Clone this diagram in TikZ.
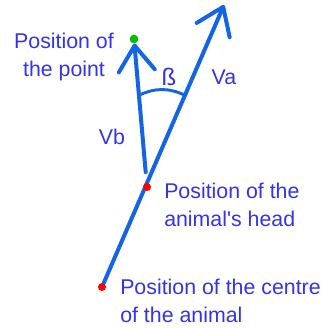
\documentclass[tikz,border=0pt]{standalone}
\usepackage{fontspec}
\setmainfont{Liberation Sans}
\usepackage{xcolor}
\usepackage{tikz}
\usetikzlibrary{arrows.meta, calc, backgrounds}

\definecolor{vecblue}{RGB}{20,100,230}
\definecolor{txtblue}{RGB}{50,50,240}

\begin{document}
\begin{tikzpicture}[
            x=0.75pt, y=-0.75pt,
            vec/.style={draw=vecblue, line width=3pt, line cap=round, -{Straight Barb[round, length=19pt, width=27pt]}},
            anglearc/.style={draw=vecblue, line width=2.2pt, line cap=round},
            dot/.style={circle, fill=#1, inner sep=0pt, minimum size=6pt},
            lbl/.style={text=txtblue, font=\fontsize{16}{21}\selectfont, inner sep=0pt}
        ]
            \useasboundingbox (0,0) rectangle (326,328);
            % points
            \node[dot=red] (centre) at (102,287) {};
            \node[dot=red] (head) at (147,187) {};
            \node[dot=green!75!black, minimum size=6.5pt] (point) at (134,39) {};
            \coordinate (tipA) at (224,5);
            % labels
            \node[lbl, align=center] (pointlbl) at (64,57) {Position of\\the point};
            \node[lbl, align=left, anchor=west] (headlbl) at (164,205) {Position of the\\animal\textquotesingle s head};
            \node[lbl, align=left, anchor=west] (centrelbl) at (120,301) {Position of the centre\\of the animal};
            \node[lbl] (va) at (224,77) {Va};
            \node[lbl] (vb) at (112,137) {Vb};
            \node[lbl, font=\fontsize{18}{21}\selectfont] (beta) at (169,77) {ß};
            % vectors
            \begin{scope}[on background layer]
                \draw[vec] (centre) -- (tipA);
                \draw[vec, shorten <=8pt] (head) -- (point);
                \draw[anglearc] ($(head)!0.62!(point)$) to[bend left=25] ($(centre)!0.68!(tipA)$);
            \end{scope}
        \end{tikzpicture}
\end{document}
